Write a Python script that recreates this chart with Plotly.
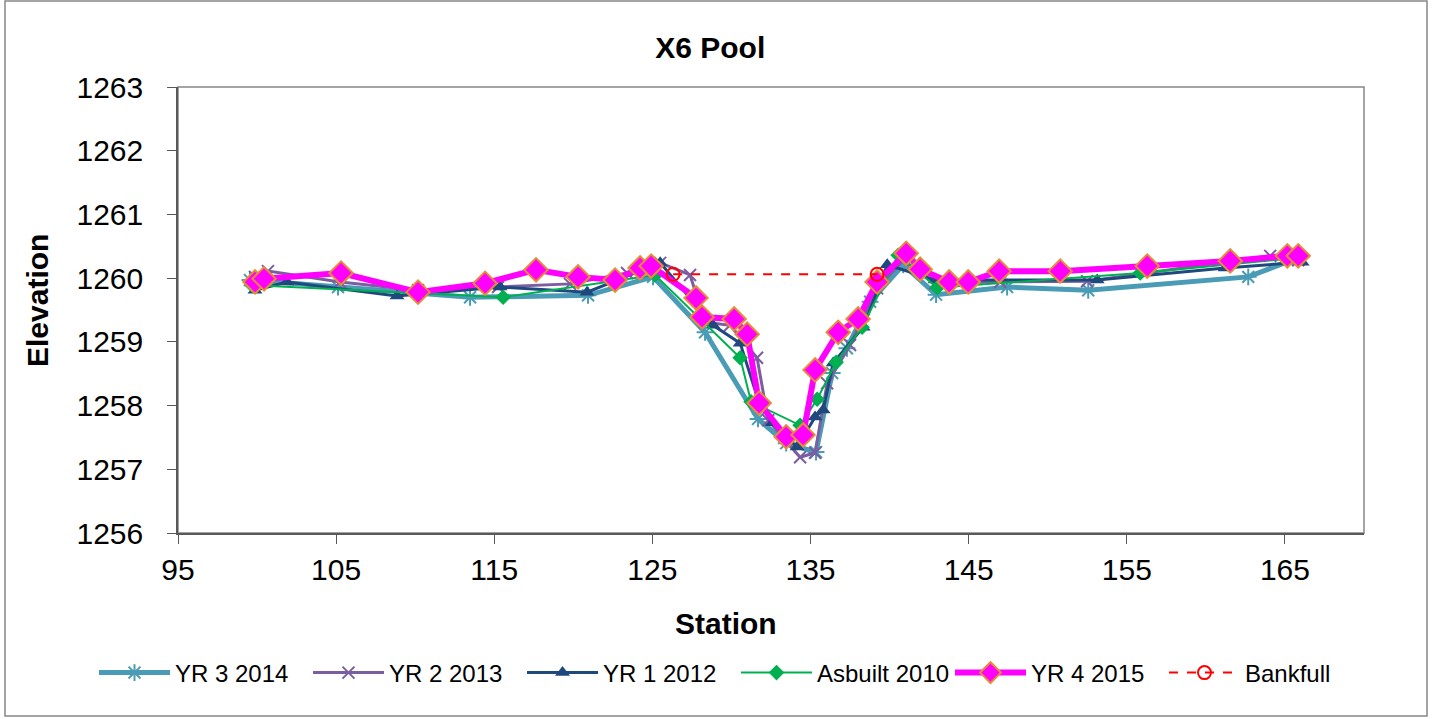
import plotly.graph_objects as go

# station / elevation
yr3_x = [99.55, 105.12, 113.47, 120.93, 125.04, 128.33, 131.68, 133.46, 135.35, 136.37, 137.30,
         138.77, 140.86, 142.94, 147.43, 152.56, 162.68, 165.84]
yr3_y = [1259.97, 1259.86, 1259.70, 1259.73, 1260.02, 1259.15, 1257.79, 1257.41, 1257.27, 1258.51,
         1258.90, 1259.63, 1260.21, 1259.74, 1259.86, 1259.81, 1260.02, 1260.32]

yr2_x = [99.87, 100.69, 105.25, 110.18, 115.24, 119.79, 123.40, 125.49, 127.38, 128.33, 129.91,
         131.62, 132.32, 134.34, 135.29, 136.05, 137.50, 139.21, 140.86, 142.88, 147.00, 152.49,
         164.07, 165.84]
yr2_y = [1260.02, 1260.11, 1259.94, 1259.81, 1259.86, 1259.91, 1260.08, 1260.24, 1260.05, 1259.31,
         1259.26, 1258.75, 1257.77, 1257.19, 1257.26, 1258.35, 1258.95, 1259.84, 1260.28, 1259.92,
         1259.94, 1259.95, 1260.35, 1260.28]

yr1_x = [99.87, 101.89, 108.85, 115.37, 120.87, 125.49, 128.84, 130.55, 131.69, 132.57, 134.15,
         135.29, 135.80, 136.43, 138.33, 139.85, 142.88, 153.13, 161.22, 166.09]
yr1_y = [1259.81, 1259.94, 1259.72, 1259.86, 1259.78, 1260.24, 1259.26, 1258.98, 1258.09, 1257.73,
         1257.35, 1257.82, 1257.93, 1258.67, 1259.23, 1260.21, 1259.97, 1259.97, 1260.16, 1260.25]

asb_x = [99.68, 115.56, 125.17, 130.55, 131.24, 134.34, 135.42, 136.62, 138.26, 140.54, 143.01,
         155.85, 165.84]
asb_y = [1259.89, 1259.70, 1260.05, 1258.75, 1258.06, 1257.69, 1258.10, 1258.68, 1259.23, 1260.36,
         1259.85, 1260.08, 1260.32]

yr4_x = [99.87, 100.44, 105.31, 110.18, 114.42, 117.64, 120.30, 122.64, 124.22, 124.92, 127.76,
         128.14, 130.17, 130.99, 131.75, 133.46, 134.53, 135.29, 136.75, 138.01, 139.21, 141.05,
         141.93, 143.77, 144.97, 146.93, 150.79, 156.29, 161.54, 165.15, 165.84]
yr4_y = [1259.94, 1259.99, 1260.08, 1259.78, 1259.92, 1260.13, 1260.02, 1259.97, 1260.16, 1260.19,
         1259.69, 1259.39, 1259.36, 1259.12, 1258.04, 1257.51, 1257.54, 1258.56, 1259.15, 1259.36,
         1259.94, 1260.39, 1260.14, 1259.94, 1259.94, 1260.11, 1260.11, 1260.19, 1260.27, 1260.35,
         1260.35]

bkf_x = [126.31, 139.21]
bkf_y = [1260.06, 1260.06]

x_ticks = [95, 105, 115, 125, 135, 145, 155, 165]
y_ticks = [1256, 1257, 1258, 1259, 1260, 1261, 1262, 1263]

FONT = "Liberation Sans, Arial, sans-serif"

fig = go.Figure()
fig.add_trace(go.Scatter(
    x=yr3_x, y=yr3_y, name="YR 3 2014", mode="lines+markers",
    line=dict(color="#4A9BB5", width=5),
    marker=dict(symbol="asterisk-open", size=14, line=dict(color="#4A9BB5", width=2)),
))
fig.add_trace(go.Scatter(
    x=yr2_x, y=yr2_y, name="YR 2 2013", mode="lines+markers",
    line=dict(color="#7B5EA2", width=3),
    marker=dict(symbol="x-thin-open", size=12, line=dict(color="#7B5EA2", width=2)),
))
fig.add_trace(go.Scatter(
    x=yr1_x, y=yr1_y, name="YR 1 2012", mode="lines+markers",
    line=dict(color="#1F497D", width=3),
    marker=dict(symbol="triangle-up", size=13, color="#1F497D"),
))
fig.add_trace(go.Scatter(
    x=asb_x, y=asb_y, name="Asbuilt 2010", mode="lines+markers",
    line=dict(color="#00B050", width=2),
    marker=dict(symbol="diamond", size=12, color="#00B050"),
))
fig.add_trace(go.Scatter(
    x=yr4_x, y=yr4_y, name="YR 4 2015", mode="lines+markers",
    line=dict(color="#FF00FF", width=6),
    marker=dict(symbol="diamond", size=18, color="#FF00FF", line=dict(color="#E58C38", width=2)),
))
fig.add_trace(go.Scatter(
    x=bkf_x, y=bkf_y, name="Bankfull", mode="lines+markers",
    line=dict(color="#FF0000", width=2, dash="dash"),
    marker=dict(symbol="circle-open", size=13, line=dict(color="#FF0000", width=2)),
))

fig.update_layout(
    width=1432, height=719,
    paper_bgcolor="white", plot_bgcolor="white",
    font=dict(family=FONT, color="black"),
    margin=dict(l=178, r=68, t=87, b=186),
    title=dict(text="<b>X6 Pool</b>", x=0.496, xref="container", xanchor="center",
               y=1 - 47 / 719, yref="container", yanchor="middle", font=dict(size=30)),
    xaxis=dict(range=[95, 170], tickvals=x_ticks, showgrid=False, zeroline=False,
               showline=True, linecolor="#595959", linewidth=1.5,
               ticks="outside", ticklen=9, tickcolor="#595959", tickfont=dict(size=30)),
    yaxis=dict(range=[1256, 1263], tickvals=y_ticks, showgrid=False, zeroline=False,
               showline=True, linecolor="#595959", linewidth=1.5, ticklabelstandoff=18,
               ticks="outside", ticklen=9, tickcolor="#595959", tickfont=dict(size=30)),
    showlegend=True,
    legend=dict(orientation="h", x=(94 - 178) / 1186, xanchor="left",
                y=-140 / 446, yanchor="middle", itemwidth=71, entrywidth=128,
                font=dict(size=24), bgcolor="rgba(0,0,0,0)", traceorder="normal"),
    annotations=[
        dict(text="<b>Station</b>", x=(726 - 178) / 1186, y=-(623 - 533) / 446,
             xref="paper", yref="paper", showarrow=False, font=dict(size=30),
             xanchor="center", yanchor="middle"),
        dict(text="<b>Elevation</b>", x=(37 - 178) / 1186, y=(533 - 301) / 446,
             xref="paper", yref="paper", showarrow=False, font=dict(size=30),
             textangle=-90, xanchor="center", yanchor="middle"),
    ],
    shapes=[
        dict(type="rect", xref="paper", yref="paper", x0=0, x1=1, y0=0, y1=1,
             line=dict(color="#868686", width=1.5), layer="below"),
        dict(type="rect", xref="paper", yref="paper",
             x0=(5 - 178) / 1186, x1=(1427 - 178) / 1186,
             y0=(533 - 716) / 446, y1=(533 - 1) / 446,
             line=dict(color="#868686", width=1.5)),
    ],
)

# drop the default 8px page margin so the figure sits at the window's corner
fig.write_html("out.html", config={"displayModeBar": False},
               post_script="document.body.style.margin='0';")
